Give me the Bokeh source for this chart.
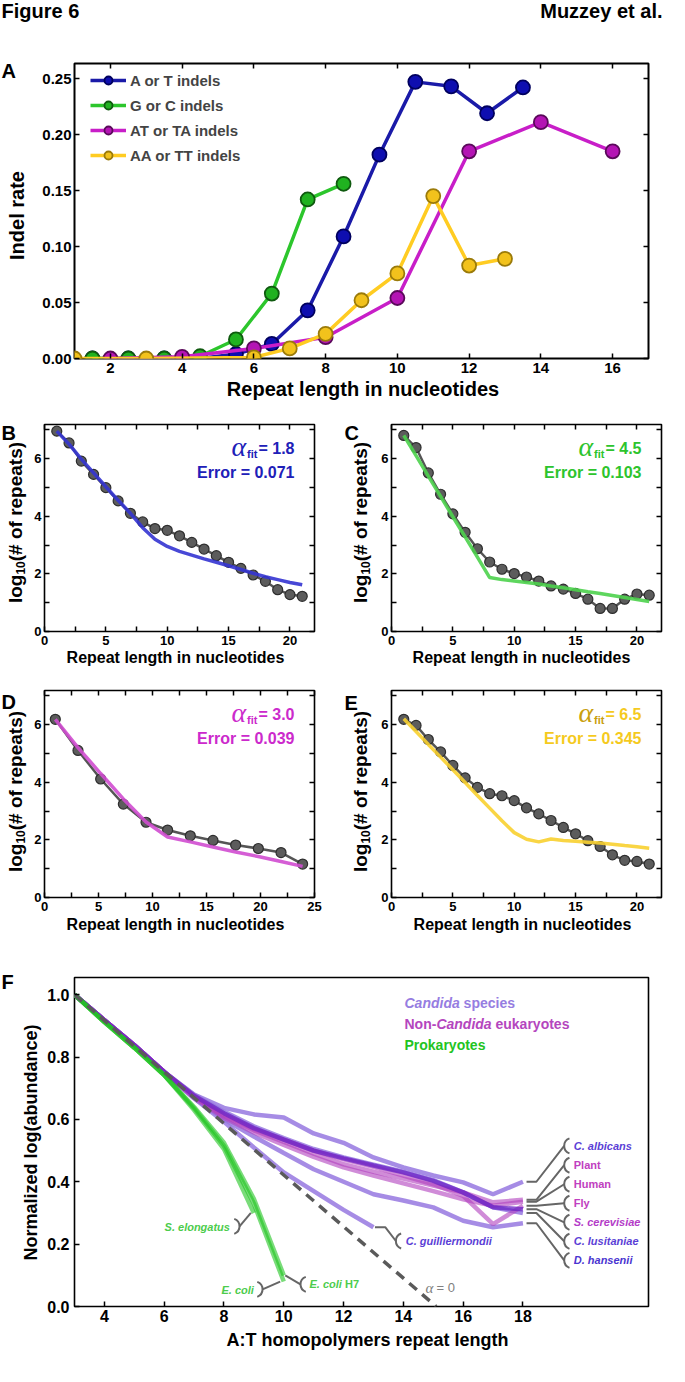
import math
from bokeh.plotting import figure
from bokeh.models import (Label, Legend, LegendItem, LinearAxis, FixedTicker, GridBox,
                          PrintfTickFormatter, CustomJSTickFormatter, Range1d)
from bokeh.layouts import column, row
from bokeh.embed import file_html
from bokeh.resources import INLINE

SANS = "Liberation Sans"
SERIF = "Liberation Serif"

# ---------------- Panel A data ----------------
a_names = ["A or T indels", "G or C indels", "AT or TA indels", "AA or TT indels"]
a_at_x = [1.5, 2.5, 3.5, 4.5, 5.5, 6.5, 7.5, 8.5, 9.5, 10.5, 11.5, 12.5, 13.5]
a_at_y = [0.0, 0.0, 0.0, 0.0, 0.004, 0.013, 0.043, 0.109, 0.182, 0.247, 0.243, 0.219, 0.242]
a_gc_x = [1.5, 2.5, 3.5, 4.5, 5.5, 6.5, 7.5, 8.5]
a_gc_y = [0.0, 0.0, 0.0, 0.002, 0.017, 0.058, 0.142, 0.156]
a_ta_x = [2, 4, 6, 8, 10, 12, 14, 16]
a_ta_y = [0.0, 0.0015, 0.009, 0.019, 0.054, 0.185, 0.211, 0.185]
a_aa_x = [1, 3, 6, 7, 8, 9, 10, 11, 12, 13]
a_aa_y = [0.0, 0.0, 0.001, 0.009, 0.022, 0.052, 0.076, 0.145, 0.083, 0.089]
a_xticks = [2, 4, 6, 8, 10, 12, 14, 16]
a_yticks = [0.0, 0.05, 0.10, 0.15, 0.20, 0.25]

# ---------------- Panels B-E data ----------------
b_x = list(range(1, 22))
b_obs = [6.95, 6.54, 5.91, 5.45, 4.99, 4.53, 4.10, 3.80, 3.57, 3.51, 3.32, 3.09, 2.86,
         2.63, 2.40, 2.19, 1.96, 1.74, 1.45, 1.28, 1.22]
b_fit = [6.95, 6.50, 5.98, 5.50, 5.02, 4.55, 4.10, 3.60, 3.20, 2.95, 2.78, 2.65, 2.52,
         2.40, 2.28, 2.15, 2.02, 1.90, 1.80, 1.70, 1.62]
c_x = list(range(1, 22))
c_obs = [6.80, 6.38, 5.50, 4.76, 4.08, 3.44, 2.87, 2.41, 2.16, 2.01, 1.89, 1.75, 1.58,
         1.47, 1.32, 1.12, 0.80, 0.80, 1.12, 1.30, 1.26]
c_fit = [6.80, 6.10, 5.39, 4.69, 3.98, 3.28, 2.58, 1.87, 1.80, 1.75, 1.70, 1.65, 1.58,
         1.52, 1.45, 1.38, 1.32, 1.25, 1.18, 1.11, 1.04]
d_x = [1.0, 3.1, 5.2, 7.3, 9.4, 11.4, 13.5, 15.6, 17.7, 19.8, 21.9, 23.9]
d_obs = [6.18, 5.10, 4.11, 3.24, 2.61, 2.34, 2.14, 1.98, 1.82, 1.70, 1.56, 1.16]
d_fit = [6.18, 5.20, 4.30, 3.42, 2.62, 2.10, 1.93, 1.75, 1.58, 1.42, 1.25, 1.08]
e_x = list(range(1, 22))
e_obs = [6.18, 5.97, 5.48, 5.05, 4.58, 4.15, 3.82, 3.60, 3.53, 3.36, 3.11, 2.90, 2.67,
         2.43, 2.21, 1.97, 1.77, 1.48, 1.29, 1.25, 1.16]
e_fit = [6.20, 5.76, 5.31, 4.87, 4.43, 3.99, 3.54, 3.10, 2.66, 2.25, 2.02, 1.93, 2.03,
         1.98, 1.95, 1.92, 1.89, 1.85, 1.80, 1.76, 1.71]
alpha_fit = ["1.8", "4.5", "3.0", "6.5"]
fit_error = ["0.071", "0.103", "0.039", "0.345"]

# ---------------- Panel F data ----------------
f_x = list(range(3, 19))
f_albicans = [1.000, 0.918, 0.838, 0.752, 0.680, 0.637, 0.616, 0.606, 0.555, 0.525,
              0.478, 0.446, 0.420, 0.398, 0.360, 0.400]
f_lusitaniae = [1.000, 0.918, 0.838, 0.752, 0.678, 0.625, 0.578, 0.540, 0.505, 0.478,
                0.455, 0.432, 0.405, 0.366, 0.318, 0.300]
f_hansenii = [1.000, 0.918, 0.838, 0.752, 0.668, 0.600, 0.545, 0.492, 0.440, 0.400,
              0.360, 0.340, 0.318, 0.275, 0.254, 0.267]
f_guill_x = list(range(3, 14))
f_guilliermondii = [1.000, 0.918, 0.838, 0.752, 0.668, 0.592, 0.510, 0.430, 0.370, 0.310, 0.254]
f_plant = [1.000, 0.918, 0.838, 0.752, 0.672, 0.610, 0.565, 0.528, 0.490, 0.456,
           0.432, 0.410, 0.388, 0.366, 0.334, 0.342]
f_human = [1.000, 0.918, 0.838, 0.752, 0.670, 0.605, 0.558, 0.518, 0.480, 0.446,
           0.420, 0.395, 0.370, 0.344, 0.323, 0.336]
f_fly = [1.000, 0.918, 0.838, 0.752, 0.674, 0.615, 0.570, 0.535, 0.500, 0.472,
         0.448, 0.420, 0.392, 0.355, 0.264, 0.323]
f_scerevisiae = [1.000, 0.918, 0.838, 0.752, 0.676, 0.620, 0.572, 0.535, 0.500, 0.475,
                 0.452, 0.430, 0.403, 0.366, 0.318, 0.312]
f_pro_x = list(range(3, 11))
f_ecoli = [1.000, 0.912, 0.830, 0.742, 0.636, 0.515, 0.330, 0.080]
f_ecoli_h7 = [1.000, 0.912, 0.830, 0.742, 0.640, 0.525, 0.345, 0.100]
f_selong_x = list(range(3, 10))
f_selongatus = [1.000, 0.912, 0.830, 0.742, 0.630, 0.505, 0.300]
f_alpha0_x = [3.0, 15.1]
f_alpha0_y = [1.0, 0.0]
f_xticks = [4, 6, 8, 10, 12, 14, 16, 18]
f_yticks = [0.0, 0.2, 0.4, 0.6, 0.8, 1.0]

# ---------------- helpers ----------------
W = {' ': 278, '#': 556, '(': 333, ')': 333, '-': 333, '.': 278, ':': 333, '=': 584}
for ch in "0123456789":
    W[ch] = 556
W.update(dict(A=722, B=722, C=722, D=722, E=667, F=611, G=778, H=722, I=278, J=556, K=722,
              L=611, M=833, N=722, O=778, P=667, Q=778, R=722, S=667, T=611, U=722, V=667,
              W=944, X=667, Y=667, Z=611))
W.update(dict(a=556, b=611, c=556, d=611, e=556, f=333, g=611, h=611, i=278, j=278, k=556,
              l=278, m=889, n=611, o=611, p=611, q=611, r=389, s=556, t=333, u=611, v=556,
              w=778, x=556, y=556, z=500))


def tw(s, size):
    return sum(W.get(c, 556) for c in s) * size / 1000.0


def new_fig(w, h, xr, yr, l, r, t, b):
    p = figure(width=w, height=h, x_range=Range1d(*xr), y_range=Range1d(*yr),
               min_border_left=l, min_border_right=r, min_border_top=t, min_border_bottom=b,
               toolbar_location=None, output_backend="svg")
    p.xgrid.visible = False
    p.ygrid.visible = False
    p.outline_line_color = "black"
    p.outline_line_width = 1.6
    p.background_fill_color = "white"
    p.border_fill_color = "white"
    return p


def style_axes(p, xt, yt, xminor=(), yminor=(), xfmt=None, yfmt=None, fsize="13px",
               tick=5, sx=3, sy=3, mirror=True):
    p.xaxis.ticker = FixedTicker(ticks=list(xt), minor_ticks=list(xminor))
    p.yaxis.ticker = FixedTicker(ticks=list(yt), minor_ticks=list(yminor))
    if xfmt:
        p.xaxis.formatter = PrintfTickFormatter(format=xfmt)
    if yfmt:
        p.yaxis.formatter = PrintfTickFormatter(format=yfmt)
    for ax, so in ((p.xaxis[0], sx), (p.yaxis[0], sy)):
        ax.axis_line_color = None
        ax.major_tick_in = tick
        ax.major_tick_out = 0
        ax.minor_tick_in = tick
        ax.minor_tick_out = 0
        ax.major_tick_line_width = 1.5
        ax.minor_tick_line_width = 1.5
        ax.major_label_standoff = so
        ax.major_label_text_font = SANS
        ax.major_label_text_font_style = "bold"
        ax.major_label_text_font_size = fsize
        ax.major_label_text_color = "black"
    if mirror:
        for place, tk, mn in (("above", xt, xminor), ("right", yt, yminor)):
            ax = LinearAxis(ticker=FixedTicker(ticks=list(tk), minor_ticks=list(mn)),
                            formatter=CustomJSTickFormatter(code="return ''"))
            ax.axis_line_color = None
            ax.major_tick_in = tick
            ax.major_tick_out = 0
            ax.minor_tick_in = tick
            ax.minor_tick_out = 0
            ax.major_tick_line_width = 1.5
            ax.minor_tick_line_width = 1.5
            ax.major_label_standoff = 0
            p.add_layout(ax, place)


def lab(p, text, x, y, size, color="black", style="bold", font=SANS, align="left",
        base="middle", angle=0.0, units="screen", x_off=0):
    p.add_layout(Label(x=x, y=y, x_units=units, y_units=units, text=text, text_font=font,
                       text_font_size=f"{size}px", text_font_style=style, text_color=color,
                       text_align=align, text_baseline=base, angle=angle, x_offset=x_off))


def alpha_text(p, fw, aval, err, col, acol):
    right = fw - 20
    t1 = "= " + aval
    w1 = tw(t1, 16)
    wf = tw("fit", 11)
    lab(p, t1, right, 183, 16, col, align="right")
    lab(p, "fit", right - w1 - 1, 178, 11, acol, align="right")
    lab(p, "\u03b1", right - w1 - wf - 2, 185, 28, acol, style="italic", font=SERIF, align="right")
    lab(p, "Error = " + err, right, 159, 16, col, align="right")


# ---------------- Panel A ----------------
pA = new_fig(669, 407, (1, 17), (0, 0.2634), 64, 8, 63, 49)
pA.outline_line_width = 2
style_axes(pA, a_xticks, a_yticks, xfmt="%d", yfmt="%.2f", fsize="15px", sx=4, sy=3)
a_line = ["#1a1aa8", "#2cc62c", "#c81ec8", "#ffcc22"]
a_fill = ["#0e0eb0", "#20b220", "#b414b4", "#f2c21c"]
a_edge = ["#00005e", "#0f5a0f", "#5a0a5a", "#9b7b0a"]
items = []
for nm, xs, ys, lc, fc, ec in zip(a_names, [a_at_x, a_gc_x, a_ta_x, a_aa_x],
                                  [a_at_y, a_gc_y, a_ta_y, a_aa_y], a_line, a_fill, a_edge):
    rl = pA.line(xs, ys, line_color=lc, line_width=3.5)
    rs = pA.scatter(xs, ys, size=14, marker="circle", fill_color=fc, line_color=ec, line_width=1.8)
    items.append(LegendItem(label=nm, renderers=[rl, rs]))
legA = Legend(items=items, location=(16, 193), glyph_width=36, glyph_height=20, label_height=20,
              spacing=5, label_standoff=4, padding=0, margin=0, border_line_color=None,
              background_fill_alpha=0, label_text_font=SANS, label_text_font_style="bold",
              label_text_font_size="15px")
pA.add_layout(legA)

# ---------------- Panels B-E ----------------
small_specs = [
    (b_x, b_obs, b_fit, "#3434d2", "#2020b8", "#2020b8", (0, 22), [0, 5, 10, 15, 20],
     [2.5, 7.5, 12.5, 17.5]),
    (c_x, c_obs, c_fit, "#4cd24c", "#2dc42d", "#2dc42d", (0, 22), [0, 5, 10, 15, 20],
     [2.5, 7.5, 12.5, 17.5]),
    (d_x, d_obs, d_fit, "#d04cd0", "#cc2acc", "#cc2acc", (0, 25), [0, 5, 10, 15, 20, 25],
     [2.5, 7.5, 12.5, 17.5, 22.5]),
    (e_x, e_obs, e_fit, "#f8d030", "#f5ca1e", "#c9a00e", (0, 22), [0, 5, 10, 15, 20],
     [2.5, 7.5, 12.5, 17.5]),
]
small_figs = []
for i, (xs, obs, fit, fc, tc, ac, xr, xt, xm) in enumerate(small_specs):
    left_col = i % 2 == 0
    top_row = i < 2
    w = 345 if left_col else 324
    bl, br = (44, 31) if left_col else (46, 8)
    h = 270 if top_row else 265
    bt, bb = (17, 46) if top_row else (13, 45)
    p = new_fig(w, h, xr, (0, 7.18), bl, br, bt, bb)
    style_axes(p, xt, [0, 2, 4, 6], xminor=xm, yminor=[1, 3, 5, 7], xfmt="%d", yfmt="%d",
               fsize="13px", sx=4, sy=3)
    p.line(xs, obs, line_color="#555555", line_width=2.5)
    p.scatter(xs, obs, size=10, marker="circle", fill_color="#5c5c5c", line_color="#2e2e2e",
              line_width=1.2)
    p.line(xs, fit, line_color=fc, line_width=3.5, line_alpha=0.9)
    alpha_text(p, 270, alpha_fit[i], fit_error[i], tc, ac)
    small_figs.append(p)

# ---------------- Panel F ----------------
pF = new_fig(669, 424, (3, 22.2), (0, 1.055), 74, 21, 35, 60)
style_axes(pF, f_xticks, f_yticks, xfmt="%d", yfmt="%.1f", fsize="16px", sx=3, sy=5,
           mirror=False)
CAND = "#9678e0"
NONC = "#b040be"
DARK = "#6a22c4"
PROK = "#22c422"
for ys in (f_albicans, f_lusitaniae, f_hansenii):
    pF.line(f_x, ys, line_color=CAND, line_width=4.5, line_alpha=0.85)
pF.line(f_guill_x, f_guilliermondii, line_color=CAND, line_width=4.5, line_alpha=0.85)
for ys in (f_plant, f_human, f_fly):
    pF.line(f_x, ys, line_color=NONC, line_width=4.5, line_alpha=0.6)
pF.line(f_x, f_scerevisiae, line_color=DARK, line_width=4.5, line_alpha=0.75)
pF.line(f_pro_x, f_ecoli, line_color=PROK, line_width=4.5, line_alpha=0.6)
pF.line(f_pro_x, f_ecoli_h7, line_color=PROK, line_width=4.5, line_alpha=0.6)
pF.line(f_selong_x, f_selongatus, line_color=PROK, line_width=4.5, line_alpha=0.6)
pF.line(f_alpha0_x, f_alpha0_y, line_color="#5a5a5a", line_width=3.5, line_dash="10 7")

lr = [pF.line([], [], line_color=c, line_width=4) for c in (CAND, NONC, PROK)]
legF = Legend(items=[LegendItem(label=" ", renderers=[r]) for r in lr], location=(301, 254),
              glyph_width=25, glyph_height=16, label_height=16, spacing=5, label_standoff=0,
              padding=0, margin=0, border_line_color=None, background_fill_alpha=0,
              label_text_font_size="10px")
pF.add_layout(legF)
LEGC1, LEGC2, LEGC3 = "#967de1", "#b446be", "#22c422"
lab(pF, "Candida", 330, 304, 14, LEGC1, style="bold italic")
lab(pF, "species", 330 + tw("Candida ", 14), 304, 14, LEGC1)
lab(pF, "Non-", 330, 283, 14, LEGC2)
lab(pF, "Candida", 330 + tw("Non-", 14), 283, 14, LEGC2, style="bold italic")
lab(pF, "eukaryotes", 330 + tw("Non-Candida ", 14), 283, 14, LEGC2)
lab(pF, "Prokaryotes", 330, 262, 14, LEGC3)

GRAY = "#666666"
right_lines = [f_albicans, f_plant, f_human, f_fly, f_scerevisiae, f_lusitaniae, f_hansenii]
right_names = ["C. albicans", "Plant", "Human", "Fly", "S. cerevisiae", "C. lusitaniae", "D. hansenii"]
right_italic = [True, False, False, False, True, True, True]
right_cols = ["#5b3fd6", "#c040c0", "#c040c0", "#c040c0", "#b43cc8", "#5b3fd6", "#4a34d0"]
right_label_y = [0.515, 0.453, 0.392, 0.331, 0.270, 0.209, 0.148]
R = 8
rpx = 29.9  # px per x unit in panel F
for ys, nm, it, col, ly in zip(right_lines, right_names, right_italic, right_cols, right_label_y):
    ye = ys[-1]
    pF.line([18.12, 18.45, 19.38], [ye, ye, ly], line_color=GRAY, line_width=2)
    pF.arc(x=[19.38 + R / rpx], y=[ly], radius=R, radius_units="screen",
           start_angle=math.radians(110), end_angle=math.radians(250), line_color=GRAY,
           line_width=2)
    lab(pF, nm, 19.7, ly, 11, col, style="bold italic" if it else "bold", units="data")

ge = f_guilliermondii[-1]
pF.line([13.05, 13.4, 13.75], [ge, ge, 0.21], line_color=GRAY, line_width=2)
pF.arc(x=[13.75 + R / rpx], y=[0.21], radius=R, radius_units="screen",
       start_angle=math.radians(110), end_angle=math.radians(250), line_color=GRAY, line_width=2)
lab(pF, "C. guilliermondii", 14.08, 0.21, 11, "#5b3fd6", style="bold italic", units="data")

PROKT = "#4ccc4c"
se = f_selongatus[-1]
pF.line([8.9, 8.52], [se, 0.257], line_color=GRAY, line_width=2)
pF.arc(x=[8.52 - R / rpx], y=[0.257], radius=R, radius_units="screen",
       start_angle=math.radians(-70), end_angle=math.radians(70), line_color=GRAY, line_width=2)
lab(pF, "S. elongatus", 8.2, 0.255, 11, PROKT, style="bold italic", align="right", units="data")

ee = f_ecoli[-1]
pF.line([9.88, 9.29], [ee, 0.055], line_color=GRAY, line_width=2)
pF.arc(x=[9.29 - R / rpx], y=[0.055], radius=R, radius_units="screen",
       start_angle=math.radians(-70), end_angle=math.radians(70), line_color=GRAY, line_width=2)
lab(pF, "E. coli", 9.0, 0.053, 11, PROKT, style="bold italic", align="right", units="data")

he = f_ecoli_h7[-1]
pF.line([10.05, 10.56], [he, 0.071], line_color=GRAY, line_width=2)
pF.arc(x=[10.56 + R / rpx], y=[0.071], radius=R, radius_units="screen",
       start_angle=math.radians(110), end_angle=math.radians(250), line_color=GRAY, line_width=2)
lab(pF, "E. coli", 10.86, 0.071, 11, PROKT, style="bold italic", units="data")
lab(pF, "H7", 10.86, 0.071, 11, PROKT, units="data", x_off=tw("E. coli ", 11))

lab(pF, "\u03b1", 14.74, 0.06, 15, "#808080", style="italic", font=SERIF, units="data")
lab(pF, "= 0", 14.74, 0.06, 13, "#808080", style="normal", units="data", x_off=11)

main = column(pA, row(small_figs[0], small_figs[1]), row(small_figs[2], small_figs[3]), pF)

# ---------------- transparent overlay for texts outside the plot frames ----------------
PAGE_W, PAGE_H = 669, 1366
ov = figure(width=PAGE_W, height=PAGE_H, x_range=Range1d(0, PAGE_W), y_range=Range1d(0, PAGE_H),
            min_border=0, toolbar_location=None, output_backend="svg",
            x_axis_type=None, y_axis_type=None)
ov.outline_line_color = None
ov.background_fill_alpha = 0
ov.border_fill_alpha = 0


def olab(text, px, py, size, color="black", style="bold", font=SANS, align="left", angle=0.0):
    ov.add_layout(Label(x=px - 8, y=PAGE_H + 8 - py, x_units="screen", y_units="screen",
                        text=text, text_font=font, text_font_size=f"{size}px",
                        text_font_style=style, text_color=color, text_align=align,
                        text_baseline="middle", angle=angle))


def olog(px, pcy, size=19):
    ss = round(size * 0.62)
    w_log, w_sub, w_rest = tw("log", size), tw("10", ss), tw("(# of repeats)", size)
    y0 = (PAGE_H + 8 - pcy) - (w_log + w_sub + w_rest) / 2
    for text, dx, yy, sz in (("log", 0, y0, size), ("10", 5, y0 + w_log, ss),
                             ("(# of repeats)", 0, y0 + w_log + w_sub, size)):
        ov.add_layout(Label(x=px - 8 + dx, y=yy, x_units="screen", y_units="screen", text=text,
                            text_font=SANS, text_font_size=f"{sz}px", text_font_style="bold",
                            text_color="black", text_align="left", text_baseline="middle",
                            angle=math.pi / 2))


olab("Figure 6", 9, 18.5, 20)
olab("Muzzey et al.", 670, 18.5, 20, align="right")
for letter, px, py in (("A", 9, 78.5), ("B", 9, 440), ("C", 352, 440), ("D", 9, 709),
                       ("E", 352, 710), ("F", 9, 989.5)):
    olab(letter, px, py, 20)
olab("Repeat length in nucleotides", 370.5, 396, 20, align="center")
olab("Indel rate", 24, 223, 20, align="center", angle=math.pi / 2)
for cx, cy in ((183, 665), (529, 665), (183, 932), (530, 932)):
    olab("Repeat length in nucleotides", cx, cy, 16, align="center")
for lx, cy in ((23, 530), (368, 530), (23, 799), (368, 799)):
    olog(lx, cy, 19)
olab("A:T homopolymers repeat length", 375, 1347, 18, align="center")
olab("Normalized log(abundance)", 38, 1150, 18, align="center", angle=math.pi / 2)

page = GridBox(children=[(main, 0, 0), (ov, 0, 0)])
open("out.html", "w").write(file_html(page, INLINE))
